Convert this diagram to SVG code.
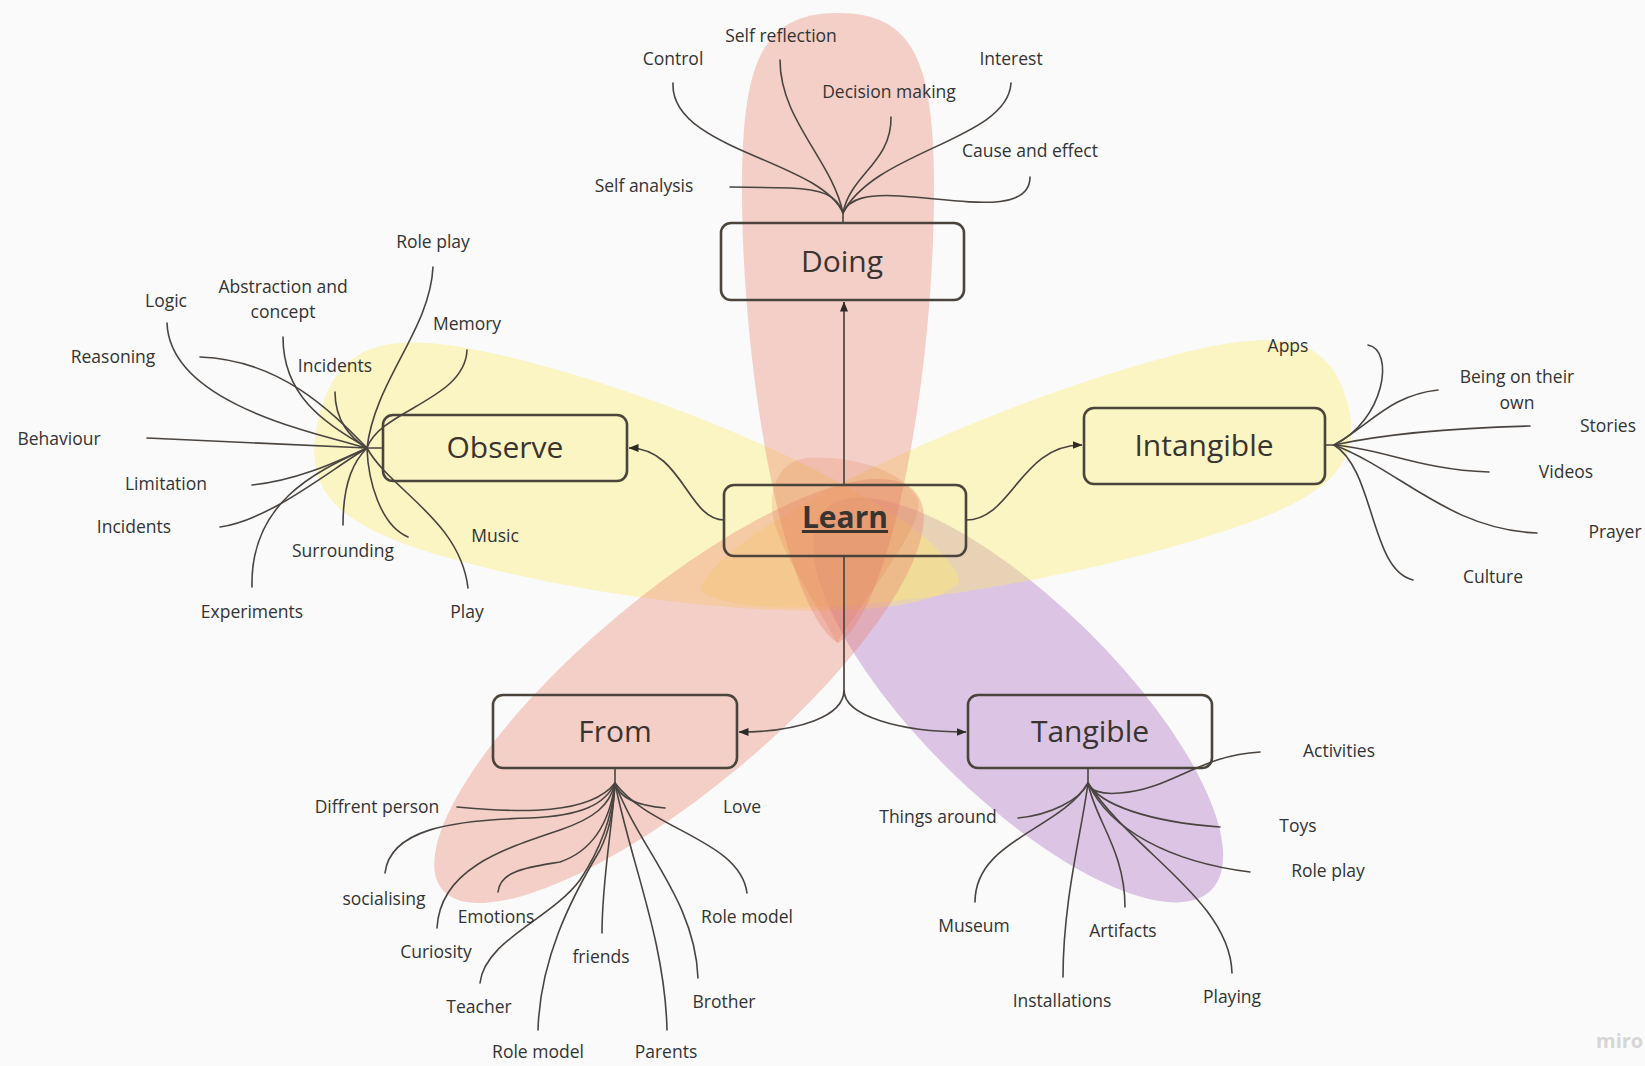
<svg xmlns="http://www.w3.org/2000/svg" width="1645" height="1066" viewBox="0 0 1645 1066">
<defs>
<style>
.lbl{font-family:"Open Sans","Liberation Sans",sans-serif;font-size:17.5px;fill:#333333;text-anchor:middle}
.title{font-family:"Open Sans","Liberation Sans",sans-serif;font-size:30px;fill:#3a3430;text-anchor:middle}
.box{fill:none;stroke:#4a443c;stroke-width:2.6}
.br{fill:none;stroke:#4a4440;stroke-width:1.6;stroke-linecap:round}
.main{fill:none;stroke:#4a4440;stroke-width:1.7;marker-end:url(#arr)}
.pink{fill:#e8836f;fill-opacity:0.36}
.yel{fill:#fcea6a;fill-opacity:0.38}
.pur{fill:#b27ac8;fill-opacity:0.42}
.core{fill:#e0703c;fill-opacity:0.18}
</style>
<marker id="arr" viewBox="0 0 10 8" refX="9.5" refY="4" markerWidth="10" markerHeight="8" markerUnits="userSpaceOnUse" orient="auto">
<path d="M0,0 L10,4 L0,8 Z" fill="#2e2a26"/>
</marker>
<path id="petal" d="M0,0 C0.05,-0.55 0.42,-1 0.72,-1 C0.92,-1 1,-0.8 1,0 C1,0.8 0.92,1 0.72,1 C0.42,1 0.05,0.55 0,0 Z"/>
</defs>
<rect width="1645" height="1066" fill="#fafafa"/>

<g id="petals">
<ellipse class="pur" cx="1018" cy="700" rx="271" ry="98" transform="rotate(44.5 1018 700)"/>
<use href="#petal" class="yel" transform="translate(960,582) rotate(194.5) scale(662,105)"/>
<use href="#petal" class="yel" transform="translate(700,590) rotate(-16.4) scale(674,92)"/>
<use href="#petal" class="pink" transform="translate(838,643) rotate(-90) scale(630,96)"/>
<ellipse class="pink" cx="679" cy="691" rx="309" ry="97" transform="rotate(-40 679 691)"/>
<path class="core" d="M807,458 C850,455 905,470 918,500 C925,525 870,590 837,643 C815,600 775,545 772,510 C770,480 785,460 807,458 Z"/>
</g>

<g id="connectors">
<path class="main" d="M844,486 L844,302"/>
<path class="main" d="M724,520 C688,520 682,448 629,448"/>
<path class="main" d="M966,520 C1012,520 1020,445 1082,445"/>
<path class="main" d="M844,556 L844,690 C844,716 800,732 739,732"/>
<path class="main" d="M844,690 C844,716 900,732 966,732"/>
<path class="br" d="M843,213 L843,223"/>
<path class="br" d="M673,83 C670,150 820,160 843,213"/>
<path class="br" d="M780,60 C780,120 832,160 843,213"/>
<path class="br" d="M891,117 C892,162 850,175 843,213"/>
<path class="br" d="M1011,83 C1008,140 875,150 843,213"/>
<path class="br" d="M1030,177 C1030,215 960,200 900,196 C868,194 849,198 843,213"/>
<path class="br" d="M730,187 L790,188 C820,189 838,195 843,213"/>
<path class="br" d="M367,448 L383,448"/>
<path class="br" d="M433,267 C430,330 375,380 367,448"/>
<path class="br" d="M467,350 C465,400 380,410 367,448"/>
<path class="br" d="M335,392 C335,420 350,438 367,448"/>
<path class="br" d="M283,337 C283,400 330,425 367,448"/>
<path class="br" d="M167,323 C170,400 300,430 367,448"/>
<path class="br" d="M200,357 C280,360 330,410 367,448"/>
<path class="br" d="M147,438 L367,448"/>
<path class="br" d="M252,485 C300,480 340,460 367,448"/>
<path class="br" d="M220,527 C270,520 330,470 367,448"/>
<path class="br" d="M252,587 C250,500 320,470 367,448"/>
<path class="br" d="M343,525 C343,480 355,460 367,448"/>
<path class="br" d="M408,537 C380,525 368,480 367,448"/>
<path class="br" d="M468,588 C460,520 390,490 367,448"/>
<path class="br" d="M1325,445 L1334,445"/>
<path class="br" d="M1368,345 C1395,350 1385,420 1334,445"/>
<path class="br" d="M1438,390 C1390,395 1370,425 1334,445"/>
<path class="br" d="M1530,426 C1450,428 1380,435 1334,445"/>
<path class="br" d="M1489,472 C1420,470 1380,448 1334,445"/>
<path class="br" d="M1537,533 C1450,530 1400,470 1334,445"/>
<path class="br" d="M1413,580 C1370,570 1375,470 1334,445"/>
<path class="br" d="M615,768 L615,783"/>
<path class="br" d="M457,807 C520,813 590,815 615,783"/>
<path class="br" d="M665,808 C640,806 620,800 615,783"/>
<path class="br" d="M385,873 C390,830 450,820 530,818 C580,816 605,805 615,783"/>
<path class="br" d="M437,928 C440,870 500,850 560,830 C595,818 610,805 615,783"/>
<path class="br" d="M498,892 C500,870 530,867 560,862 C595,850 610,820 615,783"/>
<path class="br" d="M480,983 C485,940 550,920 580,880 C600,850 612,820 615,783"/>
<path class="br" d="M538,1030 C540,960 570,900 600,850 C610,830 614,805 615,783"/>
<path class="br" d="M602,933 C602,880 612,830 615,783"/>
<path class="br" d="M667,1030 C665,940 630,860 615,783"/>
<path class="br" d="M698,978 C695,900 640,850 615,783"/>
<path class="br" d="M747,893 C740,840 650,830 615,783"/>
<path class="br" d="M1088,768 L1088,783"/>
<path class="br" d="M1260,752 C1200,755 1170,790 1120,793 C1100,795 1090,790 1088,783"/>
<path class="br" d="M1018,818 C1050,815 1080,800 1088,783"/>
<path class="br" d="M1220,827 C1150,822 1100,805 1088,783"/>
<path class="br" d="M1250,872 C1170,862 1110,830 1088,783"/>
<path class="br" d="M975,902 C975,840 1060,830 1088,783"/>
<path class="br" d="M1063,977 C1063,900 1082,830 1088,783"/>
<path class="br" d="M1125,907 C1125,850 1095,820 1088,783"/>
<path class="br" d="M1232,973 C1230,900 1130,850 1088,783"/>
</g>

<g id="node-doing"><rect class="box" x="721" y="223" width="243" height="77" rx="10"/><text class="title" x="842" y="272">Doing</text></g>
<g id="node-observe"><rect class="box" x="383" y="415" width="244" height="66" rx="10"/><text class="title" x="505" y="458">Observe</text></g>
<g id="node-learn"><rect class="box" x="724" y="485" width="242" height="71" rx="10"/><text class="title" x="845" y="528" font-weight="bold" fill="#2a2520" text-decoration="underline">Learn</text></g>
<g id="node-intangible"><rect class="box" x="1084" y="408" width="241" height="76" rx="10"/><text class="title" x="1204" y="456">Intangible</text></g>
<g id="node-from"><rect class="box" x="493" y="695" width="244" height="73" rx="10"/><text class="title" x="615" y="742">From</text></g>
<g id="node-tangible"><rect class="box" x="968" y="695" width="244" height="73" rx="10"/><text class="title" x="1090" y="742">Tangible</text></g>

<g id="leaf-self-reflection"><text class="lbl" x="781" y="42">Self reflection</text></g>
<g id="leaf-control"><text class="lbl" x="673" y="65">Control</text></g>
<g id="leaf-interest"><text class="lbl" x="1011" y="65">Interest</text></g>
<g id="leaf-decision-making"><text class="lbl" x="889" y="98">Decision making</text></g>
<g id="leaf-cause-effect"><text class="lbl" x="1030" y="157">Cause and effect</text></g>
<g id="leaf-self-analysis"><text class="lbl" x="644" y="192">Self analysis</text></g>

<g id="leaf-role-play-1"><text class="lbl" x="433" y="248">Role play</text></g>
<g id="leaf-logic"><text class="lbl" x="166" y="307">Logic</text></g>
<g id="leaf-abstraction"><text class="lbl" x="283" y="293">Abstraction and</text><text class="lbl" x="283" y="318">concept</text></g>
<g id="leaf-memory"><text class="lbl" x="467" y="330">Memory</text></g>
<g id="leaf-reasoning"><text class="lbl" x="113" y="363">Reasoning</text></g>
<g id="leaf-incidents-1"><text class="lbl" x="335" y="372">Incidents</text></g>
<g id="leaf-behaviour"><text class="lbl" x="59" y="445">Behaviour</text></g>
<g id="leaf-limitation"><text class="lbl" x="166" y="490">Limitation</text></g>
<g id="leaf-incidents-2"><text class="lbl" x="134" y="533">Incidents</text></g>
<g id="leaf-surrounding"><text class="lbl" x="343" y="557">Surrounding</text></g>
<g id="leaf-music"><text class="lbl" x="495" y="542">Music</text></g>
<g id="leaf-experiments"><text class="lbl" x="252" y="618">Experiments</text></g>
<g id="leaf-play"><text class="lbl" x="467" y="618">Play</text></g>

<g id="leaf-apps"><text class="lbl" x="1288" y="352">Apps</text></g>
<g id="leaf-being-own"><text class="lbl" x="1517" y="383">Being on their</text><text class="lbl" x="1517" y="409">own</text></g>
<g id="leaf-stories"><text class="lbl" x="1608" y="432">Stories</text></g>
<g id="leaf-videos"><text class="lbl" x="1566" y="478">Videos</text></g>
<g id="leaf-prayer"><text class="lbl" x="1615" y="538">Prayer</text></g>
<g id="leaf-culture"><text class="lbl" x="1493" y="583">Culture</text></g>

<g id="leaf-diffrent-person"><text class="lbl" x="377" y="813">Diffrent person</text></g>
<g id="leaf-love"><text class="lbl" x="742" y="813">Love</text></g>
<g id="leaf-socialising"><text class="lbl" x="384" y="905">socialising</text></g>
<g id="leaf-emotions"><text class="lbl" x="496" y="923">Emotions</text></g>
<g id="leaf-role-model-1"><text class="lbl" x="747" y="923">Role model</text></g>
<g id="leaf-curiosity"><text class="lbl" x="436" y="958">Curiosity</text></g>
<g id="leaf-friends"><text class="lbl" x="601" y="963">friends</text></g>
<g id="leaf-teacher"><text class="lbl" x="479" y="1013">Teacher</text></g>
<g id="leaf-brother"><text class="lbl" x="724" y="1008">Brother</text></g>
<g id="leaf-role-model-2"><text class="lbl" x="538" y="1058">Role model</text></g>
<g id="leaf-parents"><text class="lbl" x="666" y="1058">Parents</text></g>

<g id="leaf-activities"><text class="lbl" x="1339" y="757">Activities</text></g>
<g id="leaf-toys"><text class="lbl" x="1298" y="832">Toys</text></g>
<g id="leaf-role-play-2"><text class="lbl" x="1328" y="877">Role play</text></g>
<g id="leaf-things-around"><text class="lbl" x="938" y="823">Things around</text></g>
<g id="leaf-museum"><text class="lbl" x="974" y="932">Museum</text></g>
<g id="leaf-artifacts"><text class="lbl" x="1123" y="937">Artifacts</text></g>
<g id="leaf-installations"><text class="lbl" x="1062" y="1007">Installations</text></g>
<g id="leaf-playing"><text class="lbl" x="1232" y="1003">Playing</text></g>

<text x="1596" y="1048" font-family="'Open Sans','Liberation Sans',sans-serif" font-size="20" font-weight="bold" fill="#d6d6d6">miro</text>
</svg>
